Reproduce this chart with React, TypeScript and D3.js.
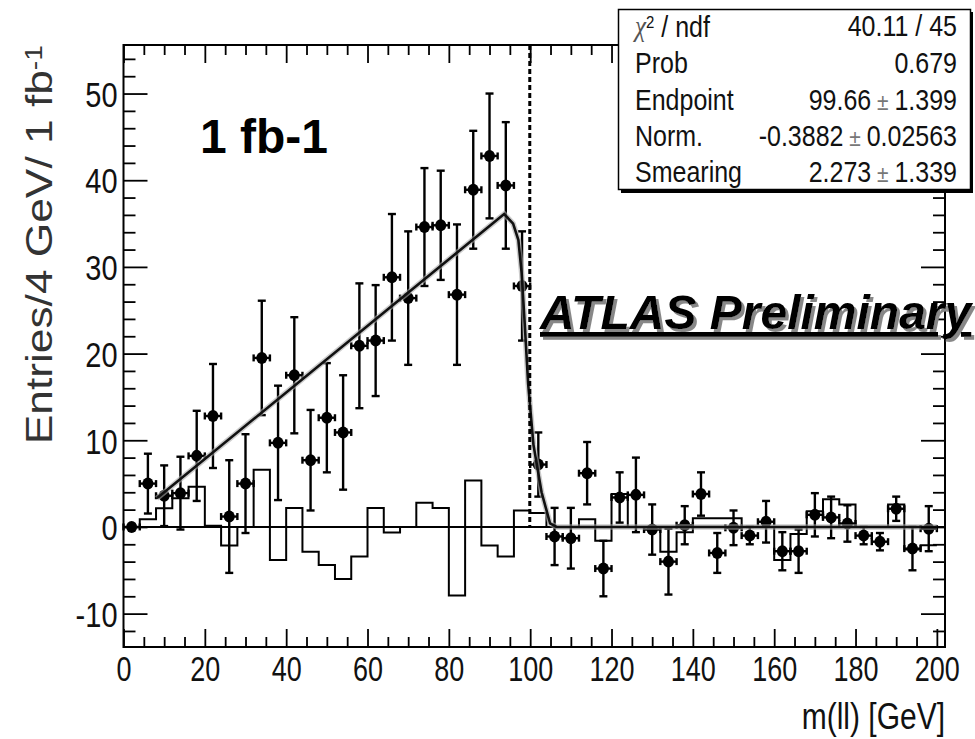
import React, { useEffect, useRef } from 'react';
import * as d3 from 'd3';

// bin centres of the 4 GeV histogram (GeV)
const massBins = [2, 6, 10, 14, 18, 22, 26, 30, 34, 38, 42, 46, 50, 54, 58, 62, 66, 70, 74, 78, 82, 86, 90, 94, 98,
    102, 106, 110, 114, 118, 122, 126, 130, 134, 138, 142, 146, 150, 154, 158, 162, 166, 170, 174, 178, 182, 186, 190, 194, 198];
const entries = [0, 5.0, 3.6, 3.9, 8.2, 12.8, 1.2, 5.0, 19.5, 9.7, 17.5, 7.7, 12.6, 10.9, 20.9, 21.5, 28.8, 26.4, 34.6, 34.8,
    26.8, 38.9, 42.8, 39.4, 27.8, 7.2, -1.1, -1.3, 6.2, -4.8, 3.4, 3.7, -0.3, -4.0, 0.2, 3.8, -3.0, -0.1, -1.0, 0.6,
    -2.8, -2.8, 1.4, 1.1, 0.4, -1.0, -1.7, 2.1, -2.5, -0.2];
const entryErrors = [0, 3.45, 3.5, 4.2, 5.2, 6.0, 6.5, 5.7, 6.6, 6.6, 6.7, 5.8, 6.3, 6.6, 7.2, 6.4, 7.3, 7.7, 6.8, 6.3,
    8.1, 6.8, 7.2, 7.3, 6.3, 3.7, 3.3, 3.5, 3.6, 3.2, 2.9, 4.3, 2.9, 3.8, 2.2, 2.5, 2.3, 2.0, 1.0, 2.4,
    2.2, 2.5, 2.5, 2.4, 2.1, 1.0, 1.0, 1.4, 2.5, 2.6];
// open step histogram
const residuals = [0, 0.9, 2.15, 3.3, 4.65, 0.15, -2.15, 0, 6.6, -3.8, 2.2, -2.85, -4.4, -6.0, -3.4, 2.2, -0.65, 0, 2.8, 2.2,
    -7.9, 5.35, -2.15, -3.4, 1.9, 1.6, 0, 0, 0.9, -1.6, 3.8, 0, 0, -2.85, -0.6, 1.0, 1.0, 1.0, 0, 0,
    -3.8, -0.8, 1.8, 3.2, 2.6, 0, 0, 2.6, -2.6, -2.1];
// fitted edge function
const fitMass = [8.2, 93.6, 95.8, 97.1, 97.9, 98.7, 99.5, 100.8, 102.8, 104.9, 106.5, 200];
const fitEntries = [3.3, 36.1, 35.0, 33.1, 29.3, 23.1, 16.5, 9.5, 4.0, 0.4, 0, 0];
const endpoint = 99.9;

const xTicks = [0, 20, 40, 60, 80, 100, 120, 140, 160, 180, 200];
const yTicks = [-10, 0, 10, 20, 30, 40, 50];

const statNames = ['/ ndf', 'Prob', 'Endpoint', 'Norm.', 'Smearing'];
const statValues = ['40.11 / 45', '0.679', '99.66', '-0.3882', '2.273'];
const statErrors = ['', '', '1.399', '0.02563', '1.339'];

const FONT = "'Liberation Sans', Arial, Helvetica, sans-serif";
const BIN_W = 4;

const App = () => {
    const svgRef = useRef(null);

    useEffect(() => {
        const svg = d3.select(svgRef.current);
        svg.selectAll('*').remove();

        const frame = { left: 123.5, right: 945, top: 45, bottom: 647 };
        const x = d3.scaleLinear().domain([0, 202]).range([frame.left, frame.right]);
        const y = d3.scaleLinear().domain([-13.85, 55.6]).range([frame.bottom, frame.top]);

        svg.append('defs').append('filter').attr('id', 'shadow')
            .attr('x', '-5%').attr('y', '-20%').attr('width', '115%').attr('height', '150%')
            .append('feDropShadow')
            .attr('dx', 3).attr('dy', 3).attr('stdDeviation', 0.6)
            .attr('flood-color', '#888').attr('flood-opacity', 1);

        svg.append('rect').attr('width', 975).attr('height', 739).attr('fill', '#fff');

        // zero line
        svg.append('line')
            .attr('x1', frame.left).attr('x2', frame.right)
            .attr('y1', y(0)).attr('y2', y(0))
            .attr('stroke', '#000').attr('stroke-width', 2);

        // step histogram
        const steps = massBins.map((c, i) => [c - BIN_W / 2, residuals[i]]);
        steps.push([massBins[massBins.length - 1] + BIN_W / 2, residuals[residuals.length - 1]]);
        svg.append('path')
            .attr('d', d3.line().x(d => x(d[0])).y(d => y(d[1])).curve(d3.curveStepAfter)(steps))
            .attr('fill', 'none').attr('stroke', '#000').attr('stroke-width', 2);

        // data points with errors
        const pts = svg.append('g').attr('stroke', '#000').attr('stroke-width', 2.4);
        massBins.forEach((c, i) => {
            const v = entries[i], e = entryErrors[i];
            const cx = x(c), cy = y(v);
            const g = pts.append('g');
            if (e > 0) {
                g.append('line').attr('x1', cx).attr('x2', cx).attr('y1', y(v - e)).attr('y2', y(v + e));
                [v - e, v + e].forEach(t => g.append('line')
                    .attr('x1', cx - 4).attr('x2', cx + 4).attr('y1', y(t)).attr('y2', y(t)));
            }
            const xl = x(c - BIN_W / 2), xr = x(c + BIN_W / 2);
            g.append('line').attr('x1', xl).attr('x2', xr).attr('y1', cy).attr('y2', cy);
            [xl, xr].forEach(t => g.append('line')
                .attr('x1', t).attr('x2', t).attr('y1', cy - 3.5).attr('y2', cy + 3.5));
            g.append('ellipse').attr('cx', cx).attr('cy', cy).attr('rx', 5.5).attr('ry', 6)
                .attr('fill', '#000').attr('stroke', 'none');
        });

        // fit curve
        const fitPts = fitMass.map((m, i) => [m, fitEntries[i]]);
        const fitLine = d3.line().x(d => x(d[0])).y(d => y(d[1]));
        svg.append('path').attr('d', fitLine(fitPts))
            .attr('fill', 'none').attr('stroke', '#aaa').attr('stroke-width', 5.5).attr('opacity', 0.6);
        svg.append('path').attr('d', fitLine(fitPts))
            .attr('fill', 'none').attr('stroke', '#111').attr('stroke-width', 2.6);

        // endpoint marker
        svg.append('line')
            .attr('x1', x(endpoint)).attr('x2', x(endpoint))
            .attr('y1', frame.top).attr('y2', y(0))
            .attr('stroke', '#000').attr('stroke-width', 3).attr('stroke-dasharray', '5,3');

        // axes: ticks inside the frame, mirrored on all sides
        const minorX = d3.range(0, 201, 5).filter(v => v % 20 !== 0);
        const minorY = d3.range(-12, 56, 2).filter(v => v % 10 !== 0);
        const addAxis = (axis, transform) => {
            const g = svg.append('g').attr('transform', transform).call(axis);
            g.select('.domain').remove();
            g.selectAll('line').attr('stroke', '#000').attr('stroke-width', 1.8);
            return g;
        };
        const none = () => '';
        const plain = d => String(d);

        const gx = addAxis(d3.axisBottom(x).tickValues(xTicks).tickSize(-18).tickFormat(plain),
            `translate(0,${frame.bottom})`);
        gx.selectAll('text')
            .attr('font-size', 27).attr('font-family', FONT).attr('fill', '#111')
            .attr('dy', null).attr('y', 25.8).attr('transform', 'scale(1,1.32)');
        addAxis(d3.axisBottom(x).tickValues(minorX).tickSize(-10).tickFormat(none), `translate(0,${frame.bottom})`);
        addAxis(d3.axisTop(x).tickValues(xTicks).tickSize(-18).tickFormat(none), `translate(0,${frame.top})`);
        addAxis(d3.axisTop(x).tickValues(minorX).tickSize(-10).tickFormat(none), `translate(0,${frame.top})`);

        const gy = addAxis(d3.axisLeft(y).tickValues(yTicks).tickSize(-24).tickFormat(plain),
            `translate(${frame.left},0)`);
        gy.selectAll('text')
            .attr('font-size', 29).attr('font-family', FONT).attr('fill', '#111')
            .attr('x', -6).attr('dy', '0.36em').attr('transform', 'scale(1,1.22)');
        addAxis(d3.axisLeft(y).tickValues(minorY).tickSize(-12).tickFormat(none), `translate(${frame.left},0)`);
        addAxis(d3.axisRight(y).tickValues(yTicks).tickSize(-24).tickFormat(none), `translate(${frame.right},0)`);
        addAxis(d3.axisRight(y).tickValues(minorY).tickSize(-12).tickFormat(none), `translate(${frame.right},0)`);

        svg.append('rect')
            .attr('x', frame.left).attr('y', frame.top)
            .attr('width', frame.right - frame.left).attr('height', frame.bottom - frame.top)
            .attr('fill', 'none').attr('stroke', '#000').attr('stroke-width', 2);

        // axis titles
        const yTitle = svg.append('text')
            .attr('transform', `translate(52,${frame.top}) rotate(-90) scale(1.23,1)`)
            .attr('text-anchor', 'end').attr('font-family', FONT).attr('font-size', 36).attr('fill', '#333');
        yTitle.append('tspan').text('Entries/4 GeV/ 1 fb');
        yTitle.append('tspan').attr('dy', '-0.45em').attr('font-size', 23).text('-1');

        svg.append('text')
            .attr('transform', `translate(${frame.right},729) scale(1,1.2)`)
            .attr('text-anchor', 'end').attr('font-family', FONT).attr('font-size', 30).attr('fill', '#111')
            .text('m(ll) [GeV]');

        // stats box
        svg.append('rect').attr('x', 621).attr('y', 12).attr('width', 352).attr('height', 181).attr('fill', '#000');
        svg.append('rect').attr('x', 618.5).attr('y', 9.5).attr('width', 352).attr('height', 180)
            .attr('fill', '#fff').attr('stroke', '#000').attr('stroke-width', 1.5);
        const baselines = [36, 73, 110, 146, 182];
        statNames.forEach((name, i) => {
            const lab = svg.append('text')
                .attr('transform', `translate(635,${baselines[i]}) scale(1,1.15)`)
                .attr('font-family', FONT).attr('font-size', 25).attr('fill', '#111');
            if (i === 0) {
                lab.append('tspan').attr('font-family', "'Liberation Serif', serif").attr('font-style', 'italic')
                    .attr('fill', '#555').text('χ');
                lab.append('tspan').attr('dy', '-0.45em').attr('font-size', 15).text('2');
                lab.append('tspan').attr('dy', '0.3em').text(' ' + name);
            } else {
                lab.text(name);
            }
            const val = svg.append('text')
                .attr('transform', `translate(957,${baselines[i]}) scale(1,1.15)`)
                .attr('text-anchor', 'end').attr('font-family', FONT).attr('font-size', 25).attr('fill', '#111');
            val.append('tspan').text(statValues[i]);
            if (statErrors[i]) {
                val.append('tspan').attr('fill', '#777').attr('font-size', 21).text(' ± ');
                val.append('tspan').text(statErrors[i]);
            }
        });

        // overlay labels
        svg.append('text')
            .attr('x', 200).attr('y', 153)
            .attr('font-family', FONT).attr('font-weight', 'bold').attr('font-size', 48)
            .text('1 fb-1');

        svg.append('text')
            .attr('x', 540).attr('y', 329)
            .attr('font-family', FONT).attr('font-weight', 'bold').attr('font-style', 'italic')
            .attr('font-size', 48).attr('fill', '#000').attr('text-decoration', 'underline')
            .attr('filter', 'url(#shadow)')
            .text('ATLAS Preliminary');
    }, []);

    return (
        <svg ref={svgRef} width={975} height={739}
            style={{ position: 'absolute', left: 0, top: 0, display: 'block' }} />
    );
};

export default App;
